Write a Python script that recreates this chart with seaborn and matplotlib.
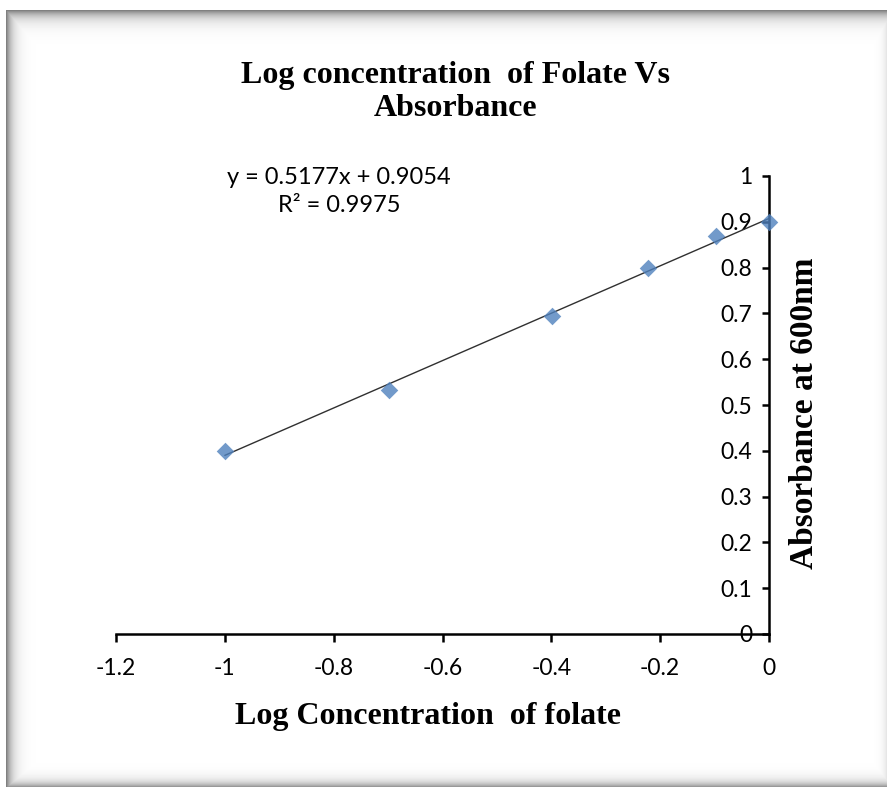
import numpy as np
import pandas as pd
import seaborn as sns
import matplotlib.pyplot as plt

# log10 of folate concentration vs absorbance at 600 nm
log_conc = [-1.0, -0.699, -0.398, -0.222, -0.097, 0.0]
absorbance = [0.400, 0.532, 0.694, 0.799, 0.869, 0.900]

x_ticks = [-1.2, -1.0, -0.8, -0.6, -0.4, -0.2, 0.0]
x_tick_labels = ['-1.2', '-1', '-0.8', '-0.6', '-0.4', '-0.2', '0']
y_ticks = [0, 0.1, 0.2, 0.3, 0.4, 0.5, 0.6, 0.7, 0.8, 0.9, 1.0]
y_tick_labels = ['0', '0.1', '0.2', '0.3', '0.4', '0.5', '0.6', '0.7', '0.8', '0.9', '1']

df = pd.DataFrame({'log_conc': log_conc, 'absorbance': absorbance})

sns.set_style('white')
plt.rcParams['font.family'] = ['Lato', 'DejaVu Sans']
plt.rcParams['text.color'] = 'black'
plt.rcParams['xtick.color'] = 'black'
plt.rcParams['ytick.color'] = 'black'
plt.rcParams['axes.labelcolor'] = 'black'

W, H = 890, 789
fig = plt.figure(figsize=(W / 100, H / 100), dpi=100)

# shadowed frame like the Excel chart border
bg = fig.add_axes([0, 0, 1, 1], zorder=-10)
yy, xx = np.mgrid[0:H, 0:W].astype(float)
x0, x1, y0, y1 = 6, 886, 10, 786
inside = (xx >= x0) & (xx <= x1) & (yy >= y0) & (yy <= y1)
dark = np.maximum.reduce([
    0.50 * np.exp(-np.clip(xx - x0, 0, None) / 6.0),
    0.50 * np.exp(-np.clip(yy - y0, 0, None) / 7.0),
    0.40 * np.exp(-np.clip(y1 - yy, 0, None) / 5.0),
    0.10 * np.exp(-np.clip(x1 - xx, 0, None) / 4.0),
])
shade = np.where(inside, 1 - dark, 1.0)
bg.imshow(shade, cmap='gray', vmin=0, vmax=1, aspect='auto', interpolation='bilinear')
bg.axis('off')

ax = fig.add_axes([116 / W, 1 - 634 / H, (769 - 116) / W, (634 - 176) / H])
sns.regplot(data=df, x='log_conc', y='absorbance', ax=ax, ci=None,
            marker='D',
            scatter_kws={'s': 80, 'color': '#4F81BD', 'linewidths': 0, 'clip_on': False, 'zorder': 3},
            line_kws={'color': '#303030', 'lw': 1.0, 'zorder': 2})

ax.set_xlim(-1.2, 0)
ax.set_ylim(0, 1)
ax.set_xticks(x_ticks)
ax.set_xticklabels(x_tick_labels)
ax.set_yticks(y_ticks)
ax.set_yticklabels(y_tick_labels)

ax.spines['left'].set_position(('data', 0))
ax.spines['right'].set_visible(False)
ax.spines['top'].set_visible(False)
for s in ['left', 'bottom']:
    ax.spines[s].set_linewidth(1.8)
    ax.spines[s].set_color('black')
ax.patch.set_alpha(0)

ax.tick_params(axis='x', direction='out', length=6, width=1.8, pad=11, labelsize=16.5, bottom=True)
ax.tick_params(axis='y', direction='out', length=5, width=1.8, pad=7, labelsize=16.5, left=True)

serif = ['Liberation Serif', 'DejaVu Serif']
ax.set_xlabel('Log Concentration  of folate', fontsize=23, fontweight='bold', family=serif)
ax.xaxis.set_label_coords(0.478, -0.148)
ax.set_ylabel('Absorbance at 600nm', fontsize=24, fontweight='bold', family=serif)
ax.yaxis.set_label_position('right')
ax.yaxis.set_label_coords(1.03, 0.4825)

fig.text(456 / W, 1 - 92 / H, 'Log concentration  of Folate Vs\nAbsorbance', ha='center', va='center',
         fontsize=23, fontweight='bold', family=serif, linespacing=1.15)

ax.text(-0.79, 0.966, 'y = 0.5177x + 0.9054\nR² = 0.9975', ha='center', va='center',
        fontsize=17, linespacing=1.45)

fig.savefig('out.png', dpi=100)
